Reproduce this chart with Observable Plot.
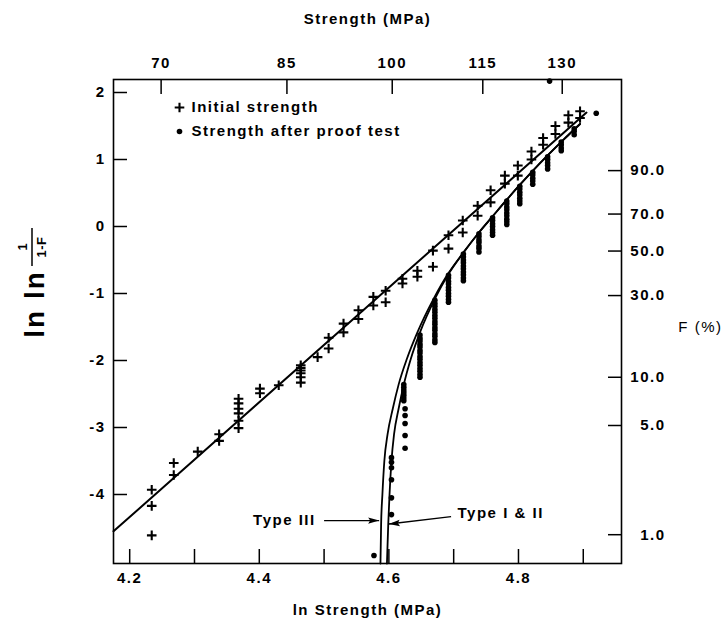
<!DOCTYPE html>
<html>
<head>
<meta charset="utf-8">
<script src="https://cdn.jsdelivr.net/npm/d3@7"></script>
<script src="https://cdn.jsdelivr.net/npm/@observablehq/plot@0.6"></script>
<style>
  body { margin: 0; background: #fff; }
  #chart svg { overflow: visible; }
</style>
</head>
<body>
<div id="chart"></div>
<script>
// Weibull plot of glass strength: initial strength vs. strength after proof test.
// x = ln strength (MPa), y = ln ln 1/(1-F)

// Initial strength ("+")
const initLnS = [
  4.234, 4.234, 4.234, 4.268, 4.268, 4.305, 4.338, 4.338,
  4.368, 4.368, 4.368, 4.368, 4.368, 4.368, 4.401, 4.401, 4.430,
  4.464, 4.464, 4.464, 4.464, 4.464, 4.464, 4.490,
  4.507, 4.507, 4.530, 4.530, 4.553, 4.553, 4.576, 4.576,
  4.595, 4.595, 4.621, 4.621, 4.644, 4.644, 4.668, 4.668,
  4.692, 4.692, 4.714, 4.714, 4.737, 4.737, 4.757, 4.757,
  4.779, 4.779, 4.799, 4.799, 4.820, 4.820, 4.838, 4.838,
  4.857, 4.857, 4.877, 4.877, 4.895, 4.895
];
const initY = [
  -3.93, -4.17, -4.61, -3.53, -3.71, -3.36, -3.10, -3.20,
  -2.57, -2.64, -2.72, -2.79, -2.90, -3.01, -2.42, -2.49, -2.37,
  -2.07, -2.11, -2.15, -2.19, -2.25, -2.33, -1.95,
  -1.66, -1.82, -1.45, -1.58, -1.25, -1.38, -1.05, -1.18,
  -0.96, -1.13, -0.78, -0.85, -0.66, -0.75, -0.36, -0.60,
  -0.13, -0.33, 0.09, -0.09, 0.31, 0.16, 0.54, 0.36,
  0.76, 0.64, 0.91, 0.76, 1.12, 1.00, 1.32, 1.22,
  1.50, 1.38, 1.66, 1.55, 1.72, 1.62
];

// Strength after proof test ("•"), grouped by ln strength
const afterLnS = [
  4.577, 4.604, 4.623, 4.625, 4.648, 4.671, 4.692, 4.715,
  4.739, 4.760, 4.782, 4.802, 4.822, 4.845, 4.866, 4.886, 4.848, 4.920
];
const afterY = [
  [-4.91],
  [-3.45, -3.52, -3.60, -3.78, -4.05, -4.30],
  [-2.36, -2.40, -2.44, -2.48, -2.52, -2.56, -2.60],
  [-2.72, -2.82, -2.94, -3.12, -3.31],
  [-1.62, -1.67, -1.71, -1.76, -1.80, -1.85, -1.89, -1.94, -1.98, -2.03, -2.07, -2.12, -2.16, -2.21, -2.25],
  [-1.10, -1.15, -1.19, -1.24, -1.28, -1.33, -1.37, -1.42, -1.46, -1.51, -1.55, -1.60, -1.64, -1.69, -1.73],
  [-0.73, -0.77, -0.82, -0.86, -0.91, -0.95, -1.00, -1.04, -1.09, -1.13],
  [-0.41, -0.45, -0.50, -0.54, -0.59, -0.63, -0.68, -0.72, -0.77, -0.81],
  [-0.11, -0.15, -0.20, -0.24, -0.29, -0.33, -0.38],
  [0.13, 0.09, 0.04, 0.00, -0.05, -0.09, -0.13],
  [0.38, 0.34, 0.29, 0.25, 0.20, 0.16, 0.11, 0.07, 0.03],
  [0.60, 0.56, 0.51, 0.47, 0.42, 0.38, 0.34],
  [0.81, 0.77, 0.72, 0.68, 0.63],
  [1.04, 1.00, 0.95, 0.91, 0.86],
  [1.26, 1.22, 1.17, 1.13],
  [1.46, 1.42, 1.37],
  [2.17],
  [1.69]
];

// Fitted line through the initial strengths
const fitLnS = [4.175, 4.905];
const fitY = [-4.55, 1.70];

// Predicted post-proof-test distributions
const type12LnS = [4.597, 4.599, 4.601, 4.604, 4.608, 4.615, 4.623, 4.634, 4.648, 4.671, 4.692, 4.715, 4.739, 4.760, 4.782, 4.802, 4.822, 4.845, 4.870, 4.895];
const type12Y   = [-5.03, -4.45, -4.00, -3.50, -3.10, -2.72, -2.36, -1.97, -1.58, -1.08, -0.71, -0.39, -0.09, 0.15, 0.40, 0.62, 0.83, 1.06, 1.30, 1.53];
const type3LnS  = [4.587, 4.588, 4.590, 4.593, 4.598, 4.606, 4.615, 4.628, 4.644, 4.669, 4.691, 4.715, 4.739, 4.760, 4.782, 4.802, 4.822, 4.845, 4.870, 4.895];
const type3Y    = [-5.03, -4.45, -4.00, -3.50, -3.10, -2.72, -2.36, -1.97, -1.58, -1.08, -0.71, -0.39, -0.09, 0.15, 0.40, 0.62, 0.83, 1.06, 1.30, 1.53];

// Axis ticks
const lnTicks = [4.2, 4.3, 4.4, 4.5, 4.6, 4.7, 4.8, 4.9];
const lnLabels = [4.2, 4.4, 4.6, 4.8];
const yTicks = [2, 1, 0, -1, -2, -3, -4];
const strengthTicks = [70, 85, 100, 115, 130];
const fTicks = [1, 5, 10, 30, 50, 70, 90];

// Text
const legendLabels = ["Initial strength", "Strength after proof test"];
const curveNotes = [
  {name: "Type III", lnS: 4.487, y: -4.39, x1: 4.500, y1: -4.39, x2: 4.585, y2: -4.39},
  {name: "Type I & II", lnS: 4.706, y: -4.28, x1: 4.696, y1: -4.33, x2: 4.600, y2: -4.44}
];

const initPts = initLnS.map((x, i) => ({x, y: initY[i]}));
const afterPts = afterLnS.flatMap((x, i) => afterY[i].map(y => ({x, y})));
const fitPts = fitLnS.map((x, i) => ({x, y: fitY[i]}));
const t12Pts = type12LnS.map((x, i) => ({x, y: type12Y[i]}));
const t3Pts = type3LnS.map((x, i) => ({x, y: type3Y[i]}));

// Stroked "+" marker
const plus = {
  draw(ctx, size) {
    const r = Math.sqrt(size / Math.PI);
    ctx.moveTo(-r, 0); ctx.lineTo(r, 0);
    ctx.moveTo(0, -r); ctx.lineTo(0, r);
  }
};
// Filled arrowhead with its tip at the anchor point, pointing up before rotation
const head = {
  draw(ctx) {
    ctx.moveTo(0, 0); ctx.lineTo(-3.2, 11); ctx.lineTo(0, 9); ctx.lineTo(3.2, 11); ctx.closePath();
  }
};

const fToY = f => Math.log(-Math.log(1 - f / 100));
const yToF = y => 100 * (1 - Math.exp(-Math.exp(y)));

const T = 14; // inward tick length

const chart = Plot.plot({
  width: 725,
  height: 623,
  marginLeft: 113,
  marginRight: 104,
  marginTop: 79,
  marginBottom: 60,
  style: {fontFamily: "'Liberation Sans', Arial, sans-serif", fontSize: "15px", fontWeight: "bold", letterSpacing: "1.5px", color: "black", background: "white"},
  x: {domain: [4.175, 4.959], axis: null},
  y: {domain: [-5.03, 2.194], axis: null},
  marks: [
    Plot.frame({stroke: "black", strokeWidth: 1.6}),
    Plot.axisX(lnTicks, {anchor: "bottom", tickSize: -T, tickPadding: T + 9, strokeWidth: 1.5,
      tickFormat: d => lnLabels.includes(d) ? d.toFixed(1) : ""}),
    Plot.axisX(strengthTicks.map(Math.log), {anchor: "top", tickSize: -T, tickPadding: T + 12, strokeWidth: 1.5,
      tickFormat: d => String(Math.round(Math.exp(d)))}),
    Plot.axisY(yTicks, {anchor: "left", tickSize: -T, tickPadding: T + 8, strokeWidth: 1.5,
      tickFormat: d => String(d)}),
    Plot.axisY(fTicks.map(fToY), {anchor: "right", tickSize: -T, tickPadding: T + 44, strokeWidth: 1.5,
      textAnchor: "end", tickFormat: d => yToF(d).toFixed(1)}),

    Plot.line(fitPts, {x: "x", y: "y", stroke: "black", strokeWidth: 2}),
    Plot.line(t3Pts, {x: "x", y: "y", stroke: "black", strokeWidth: 1.8, curve: "monotone-x"}),
    Plot.line(t12Pts, {x: "x", y: "y", stroke: "black", strokeWidth: 1.8, curve: "monotone-x"}),

    Plot.dot(afterPts, {x: "x", y: "y", r: 2.8, fill: "black", stroke: "none"}),
    Plot.dot(initPts, {x: "x", y: "y", r: 4.8, symbol: plus, fill: "none", stroke: "black", strokeWidth: 2.1}),

    // curve labels with arrows
    Plot.link(curveNotes, {x1: "x1", y1: "y1", x2: "x2", y2: "y2", stroke: "black", strokeWidth: 1.4}),
    Plot.dot(curveNotes.slice(0, 1), {x: "x2", y: "y2", symbol: head, rotate: 90, fill: "black", stroke: "none"}),
    Plot.dot(curveNotes.slice(1), {x: "x2", y: "y2", symbol: head, rotate: -95, fill: "black", stroke: "none"}),
    Plot.text(curveNotes.slice(0, 1), {x: "lnS", y: "y", text: "name", textAnchor: "end"}),
    Plot.text(curveNotes.slice(1), {x: "lnS", y: "y", text: "name", textAnchor: "start"}),

    // legend
    Plot.dot([0], {frameAnchor: "top-left", dx: 66, dy: 28, r: 4.8, symbol: plus, fill: "none", stroke: "black", strokeWidth: 2.1}),
    Plot.dot([0], {frameAnchor: "top-left", dx: 66, dy: 52, r: 2.8, fill: "black", stroke: "none"}),
    ...legendLabels.map((t, i) => Plot.text([t], {frameAnchor: "top-left", dx: 78, dy: 28 + 24 * i, text: d => d, textAnchor: "start", lineAnchor: "middle"})),

    // axis titles
    Plot.text(["Strength (MPa)"], {frameAnchor: "top", dy: -60, text: d => d, lineAnchor: "middle"}),
    Plot.text(["ln Strength (MPa)"], {frameAnchor: "bottom", dy: 47, text: d => d, lineAnchor: "middle"}),
    Plot.text(["F (%)"], {frameAnchor: "right", dx: 101, dy: 6, text: d => d, textAnchor: "end", lineAnchor: "middle", fontWeight: "normal", letterSpacing: "1.5px"})
  ]
});

// Left title: ln ln 1/(1-F), set vertically
const svg = d3.select(chart);
const g = svg.append("g").attr("transform", "rotate(-90)").attr("fill", "black");
g.append("text").attr("x", -304).attr("y", 44).attr("text-anchor", "middle")
  .style("font-size", "28px").style("font-weight", "bold").style("letter-spacing", "2px").text("ln ln");
g.append("line").attr("x1", -266).attr("x2", -228).attr("y1", 32).attr("y2", 32)
  .attr("stroke", "black").attr("stroke-width", 1.5);
g.append("text").attr("x", -247).attr("y", 27).attr("text-anchor", "middle")
  .style("font-size", "13px").style("font-weight", "bold").style("letter-spacing", "0px").text("1");
g.append("text").attr("x", -247).attr("y", 46).attr("text-anchor", "middle")
  .style("font-size", "13px").style("font-weight", "bold").style("letter-spacing", "0.5px").text("1-F");

document.getElementById("chart").append(chart);
</script>
</body>
</html>
